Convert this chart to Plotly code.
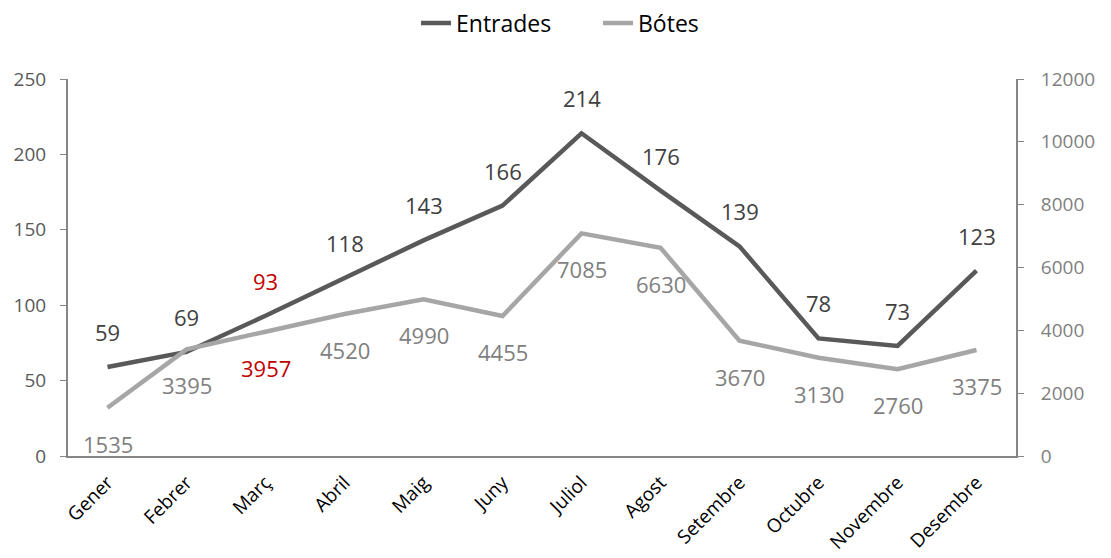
import plotly.graph_objects as go

months = ["Gener", "Febrer", "Març", "Abril", "Maig", "Juny", "Juliol",
          "Agost", "Setembre", "Octubre", "Novembre", "Desembre"]
entrades = [59, 69, 93, 118, 143, 166, 214, 176, 139, 78, 73, 123]
botes = [1535, 3395, 3957, 4520, 4990, 4455, 7085, 6630, 3670, 3130, 2760, 3375]
highlight = "Març"

DARK = "#595959"
LIGHT = "#A6A6A6"
RED = "#C00000"
AXIS = "#868686"
FONT = "Open Sans"

# page body has an 8px margin; figure sized to fit the window
W, H = 1103, 550

fig = go.Figure()
fig.add_trace(go.Scatter(x=months, y=entrades, name="Entrades", mode="lines",
                         line=dict(color=DARK, width=4.5), yaxis="y", legend="legend"))
fig.add_trace(go.Scatter(x=months, y=botes, name="Bótes", mode="lines",
                         line=dict(color=LIGHT, width=4.5), yaxis="y2", legend="legend2"))

annotations = []
for m, v in zip(months, entrades):
    annotations.append(dict(x=m, y=v, xref="x", yref="y", text=str(v), showarrow=False,
                            yshift=35, font=dict(family=FONT, size=22,
                                                 color=RED if m == highlight else "#404040")))
for m, v in zip(months, botes):
    annotations.append(dict(x=m, y=v, xref="x", yref="y2", text=str(v), showarrow=False,
                            yshift=-36, font=dict(family=FONT, size=22,
                                                  color=RED if m == highlight else "#7F7F7F")))

leg_common = dict(orientation="h", xanchor="left", xref="container",
                  y=1 - 15 / H, yanchor="middle", yref="container",
                  font=dict(family=FONT, size=23, color="#000000"), bgcolor="rgba(0,0,0,0)")

fig.update_layout(
    width=W, height=H,
    margin=dict(l=60, r=95, t=71, b=102, autoexpand=False),
    paper_bgcolor="white", plot_bgcolor="white",
    font=dict(family=FONT, size=18, color="#595959"),
    showlegend=True,
    legend=dict(x=408 / W, **leg_common),
    legend2=dict(x=590 / W, **leg_common),
    xaxis=dict(type="category", range=[-0.5, 11.5], showgrid=False, showline=True,
               linecolor=AXIS, linewidth=2, ticks="", tickangle=-45, automargin=False,
               ticklabelstandoff=6,
               tickfont=dict(family=FONT, size=19, color="#000000")),
    yaxis=dict(range=[0, 250], dtick=50, showgrid=False, showline=True, linecolor=AXIS,
               linewidth=2, ticks="outside", ticklen=6, tickcolor=AXIS, tickwidth=1,
               zeroline=False, automargin=False, ticklabelstandoff=10,
               tickfont=dict(family=FONT, size=19, color="#595959")),
    yaxis2=dict(range=[0, 12000], dtick=2000, overlaying="y", side="right", showgrid=False,
                showline=True, linecolor=AXIS, linewidth=2, ticks="outside", ticklen=6,
                tickcolor=AXIS, tickwidth=1, zeroline=False, tickformat="d", automargin=False,
                ticklabelstandoff=13,
                tickfont=dict(family=FONT, size=19, color="#7F7F7F")),
    annotations=annotations,
)

fig.write_html("out.html")
